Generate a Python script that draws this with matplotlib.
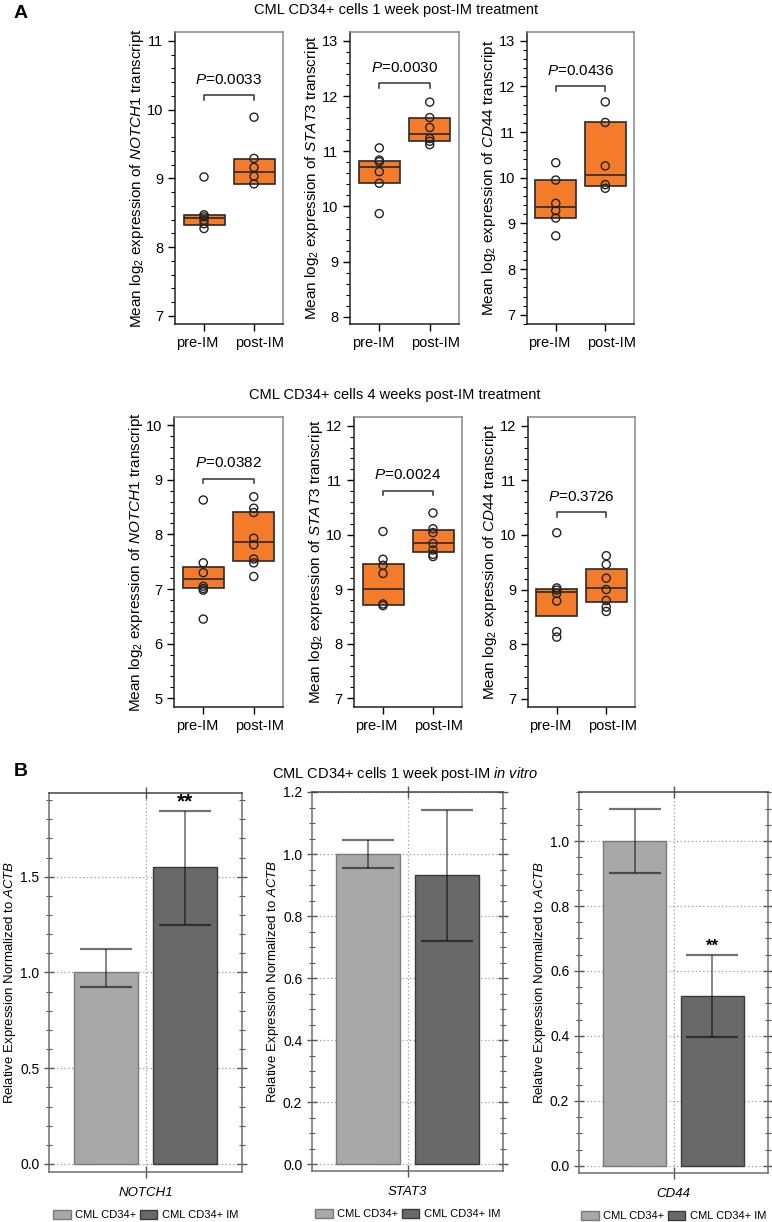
import matplotlib
matplotlib.use('Agg')
import matplotlib.pyplot as plt
from matplotlib.patches import Patch
from matplotlib.ticker import MultipleLocator, FormatStrFormatter
from matplotlib.transforms import ScaledTranslation

# fonts (Arial look)
plt.rcParams['font.family'] = ['Liberation Sans', 'DejaVu Sans']
plt.rcParams['mathtext.fontset'] = 'custom'
plt.rcParams['mathtext.rm'] = 'Liberation Sans'
plt.rcParams['mathtext.it'] = 'Liberation Sans:italic'
plt.rcParams['mathtext.bf'] = 'Liberation Sans:bold'

groups = ['pre-IM', 'post-IM']
genes = ['NOTCH1', 'STAT3', 'CD44']

# ---- A: 1 week post-IM (points, box = q1/median/q3)
w1_notch1_pre = [9.02, 8.47, 8.44, 8.39, 8.34, 8.27]
w1_notch1_post = [9.89, 9.29, 9.16, 9.03, 8.92]
w1_notch1_box = [(8.32, 8.42, 8.47), (8.92, 9.09, 9.28)]
w1_stat3_pre = [11.06, 10.84, 10.81, 10.63, 10.42, 9.87]
w1_stat3_post = [11.89, 11.61, 11.43, 11.23, 11.18, 11.12]
w1_stat3_box = [(10.42, 10.72, 10.82), (11.18, 11.32, 11.61)]
w1_cd44_pre = [10.33, 9.95, 9.44, 9.28, 9.12, 8.73]
w1_cd44_post = [11.66, 11.21, 10.26, 9.85, 9.77]
w1_cd44_box = [(9.12, 9.36, 9.95), (9.82, 10.05, 11.21)]
w1_pvals = ['0.0033', '0.0030', '0.0436']
w1_bracket = [10.21, 12.23, 12.01]

# ---- A: 4 weeks post-IM
w4_notch1_pre = [8.63, 7.48, 7.30, 7.05, 7.01, 6.98, 6.45]
w4_notch1_post = [8.69, 8.48, 8.40, 7.93, 7.81, 7.55, 7.48, 7.23]
w4_notch1_box = [(7.02, 7.18, 7.40), (7.51, 7.87, 8.41)]
w4_stat3_pre = [10.06, 9.55, 9.44, 9.29, 8.73, 8.70]
w4_stat3_post = [10.40, 10.11, 10.04, 9.84, 9.72, 9.64, 9.60]
w4_stat3_box = [(8.72, 9.01, 9.47), (9.69, 9.85, 10.08)]
w4_cd44_pre = [10.04, 9.03, 8.99, 8.93, 8.79, 8.23, 8.13]
w4_cd44_post = [9.62, 9.46, 9.21, 9.00, 8.80, 8.68, 8.60]
w4_cd44_box = [(8.51, 8.95, 9.01), (8.77, 9.03, 9.37)]
w4_pvals = ['0.0382', '0.0024', '0.3726']
w4_bracket = [9.02, 10.81, 10.42]

# ---- B: in vitro, relative expression (mean, lower, upper)
b_labels = ['CML CD34+', 'CML CD34+ IM']
b_notch1 = [1.0, 1.55]
b_notch1_lo = [0.925, 1.25]
b_notch1_hi = [1.12, 1.845]
b_stat3 = [1.0, 0.931]
b_stat3_lo = [0.956, 0.721]
b_stat3_hi = [1.046, 1.143]
b_cd44 = [1.0, 0.524]
b_cd44_lo = [0.901, 0.398]
b_cd44_hi = [1.099, 0.648]
b_stars = ['**', '', '**']

W, H = 772, 1222
fig = plt.figure(figsize=(W / 100, H / 100), dpi=100)


def px_axes(l, t, r, b):
    return fig.add_axes([l / W, 1 - b / H, (r - l) / W, (b - t) / H])


ORANGE = '#F47B2A'


def box_panel(ax, pre, post, box, pval, br, gene, ylim, yt):
    x = [0, 1]
    for i, pts in enumerate([pre, post]):
        q1, med, q3 = box[i]
        ax.bar(x[i], q3 - q1, bottom=q1, width=0.82, color=ORANGE,
               edgecolor='#2a2a2a', linewidth=1.2, zorder=2)
        ax.hlines(med, x[i] - 0.41, x[i] + 0.41, color='#2a2a2a', lw=1.2, zorder=3)
        ax.scatter([x[i]] * len(pts), pts, s=34, facecolors='none',
                   edgecolors='#222222', linewidths=1.0, zorder=4)
    leg = 0.016 * (ylim[1] - ylim[0])
    ax.plot([0, 0, 1, 1], [br - leg, br, br, br - leg], color='#333333', lw=1.1)
    ax.annotate('$\\it{P}$=' + pval, (0.5, br), xytext=(0, 6),
                textcoords='offset points', ha='center', va='bottom', fontsize=11)
    ax.set_xlim(-0.58, 1.58)
    ax.set_ylim(*ylim)
    ax.set_yticks(yt)
    ax.yaxis.set_minor_locator(MultipleLocator(0.2))
    ax.set_xticks(x)
    ax.set_xticklabels(groups, fontsize=10.5)
    ax.tick_params(axis='y', labelsize=10.5, length=5, width=1, direction='out')
    ax.tick_params(axis='y', which='minor', length=3, width=0.8)
    ax.tick_params(axis='x', length=5, width=1)
    # labels sit a little outside their ticks in the original
    for lab, dx in zip(ax.get_xticklabels(), [-6.5, 6]):
        lab.set_transform(lab.get_transform() + ScaledTranslation(dx / 100, 0, fig.dpi_scale_trans))
    for s in ['left', 'bottom']:
        ax.spines[s].set_color('#222222')
        ax.spines[s].set_linewidth(1.1)
    for s in ['top', 'right']:
        ax.spines[s].set_color('#888888')
        ax.spines[s].set_linewidth(1.1)
    ax.set_ylabel('Mean log$_2$ expression of $\\it{' + gene + '}$ transcript',
                  fontsize=11)
    w = ax.get_position().width * W
    ax.yaxis.set_label_coords(-29 / w, 0.5)


# row 1
ax = px_axes(175, 32, 283, 324)
box_panel(ax, w1_notch1_pre, w1_notch1_post, w1_notch1_box, w1_pvals[0], w1_bracket[0],
          genes[0], (6.88, 11.13), range(7, 12))
ax = px_axes(350, 32, 459, 324)
box_panel(ax, w1_stat3_pre, w1_stat3_post, w1_stat3_box, w1_pvals[1], w1_bracket[1],
          genes[1], (7.87, 13.16), range(8, 14))
ax = px_axes(527, 32, 634, 324)
box_panel(ax, w1_cd44_pre, w1_cd44_post, w1_cd44_box, w1_pvals[2], w1_bracket[2],
          genes[2], (6.80, 13.19), range(7, 14))

# row 2
ax = px_axes(174, 417, 283, 707)
box_panel(ax, w4_notch1_pre, w4_notch1_post, w4_notch1_box, w4_pvals[0], w4_bracket[0],
          genes[0], (4.84, 10.15), range(5, 11))
ax = px_axes(354, 417, 462, 707)
box_panel(ax, w4_stat3_pre, w4_stat3_post, w4_stat3_box, w4_pvals[1], w4_bracket[1],
          genes[1], (6.84, 12.16), range(7, 13))
ax = px_axes(528, 417, 635, 707)
box_panel(ax, w4_cd44_pre, w4_cd44_post, w4_cd44_box, w4_pvals[2], w4_bracket[2],
          genes[2], (6.85, 12.16), range(7, 13))

# titles
fig.text(396 / W, 1 - 10 / H, 'CML CD34+ cells 1 week post-IM treatment',
         ha='center', va='center', fontsize=10.5)
fig.text(395 / W, 1 - 395 / H, 'CML CD34+ cells 4 weeks post-IM treatment',
         ha='center', va='center', fontsize=10.5)
fig.text(405 / W, 1 - 774 / H, 'CML CD34+ cells 1 week post-IM $\\it{in\\ vitro}$',
         ha='center', va='center', fontsize=10.5)
fig.text(14 / W, 1 - 14 / H, 'A', ha='left', va='center', fontsize=14, fontweight='bold')
fig.text(14 / W, 1 - 772 / H, 'B', ha='left', va='center', fontsize=14, fontweight='bold')

# ---- B bars
LIGHT, DARK = '#A8A8A8', '#696969'
EL, ED = '#7a7a7a', '#3a3a3a'


def bar_panel(ax, vals, lo, hi, gene, ylim, major, minor, star, star_y, star_fs):
    xs = [-0.205, 0.205]
    ax.bar(xs, vals, width=0.335, color=[LIGHT, DARK], edgecolor=[EL, ED],
           linewidth=1.0, zorder=2)
    yerr = [[v - l for v, l in zip(vals, lo)], [h - v for v, h in zip(vals, hi)]]
    ax.errorbar(xs, vals, yerr=yerr, fmt='none', ecolor='black', alpha=0.55,
                elinewidth=1.2, capsize=19, capthick=1.6, zorder=3)
    if star:
        ax.text(xs[1], star_y, star, ha='center', va='center', fontsize=star_fs,
                fontweight='bold')
    ax.set_xlim(-0.5, 0.5)
    ax.set_ylim(*ylim)
    ax.yaxis.set_major_locator(MultipleLocator(major))
    ax.yaxis.set_minor_locator(MultipleLocator(minor))
    ax.yaxis.set_major_formatter(FormatStrFormatter('%.1f'))
    ax.set_xticks([0])
    ax.set_xticklabels([gene], fontsize=9.5, style='italic')
    ax.grid(True, which='major', color='#9a9a9a', linestyle=(0, (1, 2)), lw=0.9, zorder=0)
    ax.tick_params(axis='y', which='both', direction='inout', left=True, right=True,
                   color='#555555', labelsize=10)
    ax.tick_params(axis='y', which='major', length=7, width=1)
    ax.tick_params(axis='y', which='minor', length=5, width=0.8)
    ax.tick_params(axis='x', direction='inout', top=True, length=9, width=1,
                   color='#555555', pad=6)
    for s in ax.spines.values():
        s.set_color('#6e6e6e')
        s.set_linewidth(1.1)
    ax.spines['top'].set_color('#444444')
    ax.set_ylabel('Relative Expression Normalized to $\\it{ACTB}$', fontsize=9.5)
    w = ax.get_position().width * W
    ax.yaxis.set_label_coords(-31 / w, 0.5)
    handles = [Patch(facecolor=LIGHT, edgecolor=EL), Patch(facecolor=DARK, edgecolor=ED)]
    ax.legend(handles, b_labels, loc='center', bbox_to_anchor=(0.5, -0.114), ncol=2,
              frameon=False, fontsize=8, handlelength=1.6, handleheight=0.8,
              handletextpad=0.4, columnspacing=0.3, borderaxespad=0)


ax = px_axes(49, 793, 242, 1172)
bar_panel(ax, b_notch1, b_notch1_lo, b_notch1_hi, genes[0], (-0.042, 1.937), 0.5, 0.1,
          b_stars[0], 1.89, 15)
ax = px_axes(312, 792, 503, 1171)
bar_panel(ax, b_stat3, b_stat3_lo, b_stat3_hi, genes[1], (-0.022, 1.2), 0.2, 0.05,
          b_stars[1], 0, 12)
ax = px_axes(579, 792, 768, 1173)
bar_panel(ax, b_cd44, b_cd44_lo, b_cd44_hi, genes[2], (-0.022, 1.151), 0.2, 0.05,
          b_stars[2], 0.675, 12)

fig.savefig('out.png', dpi=100)
